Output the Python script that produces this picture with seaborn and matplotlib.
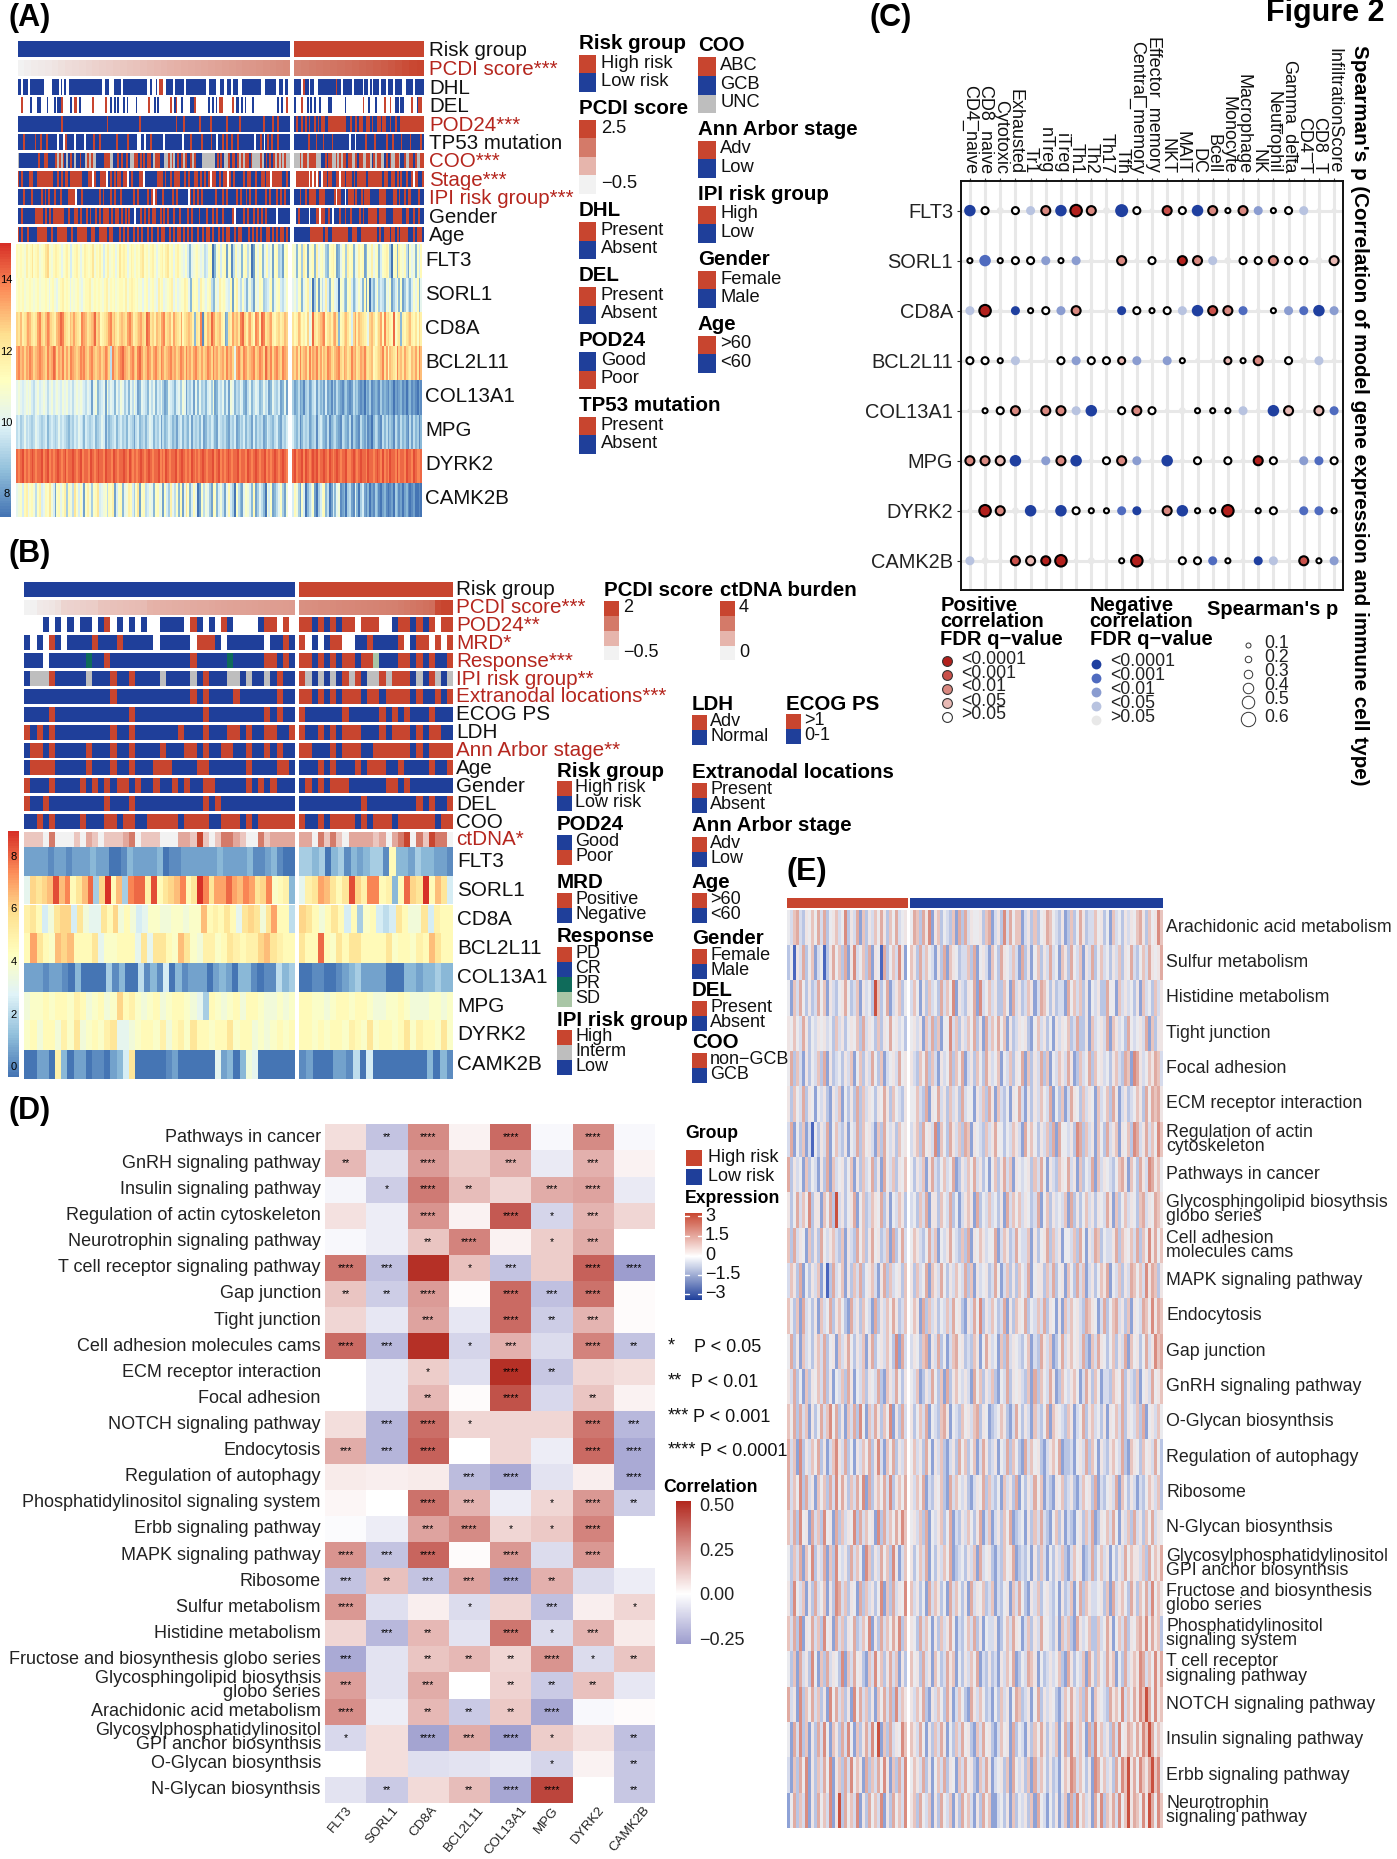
import numpy as np
import pandas as pd
import seaborn as sns
import matplotlib
matplotlib.use("Agg")
import matplotlib.pyplot as plt
from matplotlib.colors import ListedColormap, LinearSegmentedColormap, Normalize
from matplotlib.patches import Rectangle
from matplotlib.cm import ScalarMappable
from matplotlib.transforms import ScaledTranslation

# ---------------- DATA: panel A annotation tracks (left block / right block) ----------------
A_PCDI_L = [0.0,0.05,0.1,0.12,0.15,0.2,0.25,0.3,0.33,0.36,0.4,0.44,0.48,0.5,0.55,0.58,0.62,0.65,0.7,0.74,0.78,0.82,0.86,0.9,0.94,0.97,1.0,1.04,1.08,1.12,1.16,1.2,1.24,1.28,1.3,1.34,1.38,1.42,1.46,1.5]
A_PCDI_R = [1.6,1.65,1.7,1.74,1.78,1.82,1.86,1.9,1.95,2.0,2.05,2.1,2.16,2.22,2.3,2.38,2.46,2.5]
A_DHL_L = "BBWBBBWBBBBBBBBWWWWBBBBWBWBWWBBBBBBBBBBBBBBBBBBWWBBWWWBBBBWBBBBBBBBBBBBBWWBWWBWRRWWBBBBWBBBBBWBBBBBBBBBBBWWBBBBWWBBWWBBWBBBWWBBBBBBBBBBBWWBBBBBBWWBBWBBW"
A_DHL_R = "BBBBWRBBWBBWWBBBBBBBBBBRBBWBBBBBWBBBBBWBBWBWBBBWBBBWBBBWBBBBWWBBBBWBBBBB"
A_DEL_L = "WWRWWWWBWWWBBWWWBWWWBWBBRWWWWBWRRWBWWWWWWRWWWWWWRWWBWBWBWWBWBWWWWBWWWWWWRWWBWBWWWWWWRWBRWWBWWWWBBRWWWWWWWBWBWBWRRWWWWWRWBBWBWBWWWBWWWWWWWWWWWWWBWBWWRW"
A_DEL_R = "BWWWRWWBWBWBWWBWWWWBBWWWWWWWBWWWWWWWWWRWWBWWWBWWWWRWWRWWBBWBBWWWWRWWBRRW"
A_POD_L = "BBBBBBBBBBBBBBBBBBBBBBBBRBBBBBBBBBBBBBBBBBBBBBBBBRBBBBBBBBBBBBBBBBBRBBBBBBBBBBBBBBBBBBBRBBBRBBBBBBBBRBBBBBRBBBBBBBBRBBBBBBRBBBBBBBBBBBBRBBBBRBBRBBBBBB"
A_POD_R = "BRBBRBRBRBBRBRBRRBBRRRRRRRRRRBBRBBRBRRBBRRBRBBRRBRRBBRBBRBBRRRRRRRRRRRRR"
A_TP53_L = "BBBRBBBBBRBBRBBRBBBBBWBBWRBBBBWBBBBWBBBBRBBRBBBBBBBBRBBBBBRBBBBWWBBWBBRBBBBBBWBBBBBBBBBWBBBRBBBBBRBBBBRBBWBBRBRBBRBBRBBBBBBBBWBBRBWBRBRBBRBBBBBB"
A_TP53_R = "BBBBBBBBRBBBRBBBRBBBBRBBBBBBBBBWBBWBBBBBRBBBBRBBBBBBRBBRBBBBRBBBBRBBBBBRB"
A_COO_L = "GBBBBBBBBBBRBBRRBBBBRGRGRBGBRBGBBRBBGRGRGGBBBBRRRGGBBRBRBBRBGGRRBRBRBRRBGRRRBBGGRGRGBRBRGRBBRGRBBBGGGGGGGBRBRBGGRBRRBRGRGRRBRGGGGRGBRBRBRGRGRGRGG"
A_COO_R = "GGGRGRRGRRRRGGGBBRBRRGGRGRGRRBRRGGRBRRGGRRGBRGRRGGBRBRGGRRGBBRGGRRBRGGRR"
A_STAGE_L = "RBRBBBRRBBRRRRRRRRBBRBRBRRBRRRRRRBBBRRWRBBRRRWBRBRBRRBRRWBRBBBRRWBBBBBBRRRBRBBRBRRRBBRBRBBRRBRBRBRWRRBBRBRRWRBRBBBBRBRRBBRBBRRBRRWRRRRRBBRB"
A_STAGE_R = "WRRRRRRRWRWRWRBWRRBRRBBRRWRRBRRRBRBRRRRRBRRRRRRRRBRRBBRRBRBRBBRBBRWRRBBR"
A_IPI_L = "BBBRBBBRBBBBRBRBRBBRBBRBBBRRRRWBBRBBBBBBBBRBRBBBRBRBBRBBBBBBRBRBBBBRBRWRBBBRBBBBRBRBBBBBWRBRBRBRBBBBBBRBBBRBRBBBBRBRBBRBRBBRBBBBRBRBBBRBRBRBB"
A_IPI_R = "BBBRBBRBRRRRBBRRRBBBBBRWRRBBWBRRRBRBBRBRRRBBBBBRRRRBBBBRRBRBBRBRRBBBBRBB"
A_GEN_L = "BBRBBBBBBRRRRBRBRBRRRRRRBBRBBRRBRBBRBRBBRBRBRRRBRBRRBRBRBRBBWBBRBRBRBRRBBRBRBRBBRBBRBBBRBRBBBRBBBRBBRBRBBRBBBBRWBBBBRBRBBRBRBRBRBBBBBWBBBBBB"
A_GEN_R = "WBRBBBBBWBBBRRWRRBBRBWBBBRBBRBBRBBBBRBRBBRRRRRBRRRRBBBBRRRRRBBRRBBRBBRBB"
A_AGE_L = "RBRBBRBBBBRRRRRBBRBBRRRRRBBRBBRRRRRBBRRBBRRRRBRRBBBRBRBRBBRBRBRBBRBRBBRBRRBBRBRBRRBRBRBRBBRBBRBRRBRBBRBRBRRBBRBRRBBBRBRBRBRBBRRBRBRBRRBRB"
A_AGE_R = "BBBBBBBBBRRRRRRRBRRBBRRRRRRRRRBBRRRBBRRRRRRRRRBRBBRRRBRRBRBRRRRBBBRBRRRB"

# ---------------- panel A expression (letter a..t = low..high) ----------------
A_EXP_NAMES = ["FLT3","SORL1","CD8A","BCL2L11","COL13A1","MPG","DYRK2","CAMK2B"]
A_EXP_L = [
"kjkjiljkmjklijkmnjiklkjhjkljgjkljhjlkjkmikjljgjlijkhjmklkhjlkikjlmjkikljhjkljlmjkhkljihjgdhijkihifgjkadikgjkcijbfkhidjkfiacjhkjdhkgicjkefcjk",
"jkjkijjkjijkijjkjhjkihjkljkjhjijkihjkklijkjkjiklikjkijkkjliklkjkijhjkhjkihljkhijklhjhijjlkhdkjkgljihjkfdihljkihgkcjlhfjgdhifcihkjefgikdhjkgfhj",
"nmolmnpomlmpqnmoqpnmloprqnmlonpnmlqpomnoprnoklmnpqnomlnonmpqolmnopnmrqmnlonmpqmnolpnmlpkmnonldmlqbmlonrpmnolkcdmlpnomqrnlopmkqplrqmnoplkmnlmon",
"pqopnpoqpnopqponqoprqnpoqnpnqponoqpqonpqonopnoqpnfqonpqrponpqonqrpnoqpnpqonqpnopqopnoqpnqopnpqonpnoqpnqopnopnqopnhpqonqpnopqnoqpnrpoqnpqonqpo",
"hihghihigfhighihfhighihgihighfhihihgfhgchidfghcifhgdhfihegdhfigcdhgfdhfhdgfhecdhgfdgheihcfegchdhefdgheicdgfhdgcihdfehgdcfhdfhgdehfgcdhfegcdhc",
"fgefhfgfefhgfefgdfgfefhfgfedfegfhgfdgfefgdefhgcfdefgdfgefdgfecfgdefdfhgdfegcfdegfdecfgdfedgcfefdgcdfegfdcgfefdcfegcdfegdfecgdfefcdgfedfgdcfeg",
"rqrsqrqrsrqrrsqrsqrqrsrqrsqrrsrqrsqrrqsrqrsrrqsrrqsrqrrsrqsrqrqrsrqrsrqrrsqrqsrqrrsqrsrqrqsrqrqrsrqrrsqrsqrqrsrqrrsqrrqsrqrsrqrrsqrqrsrqrsrq",
"hijgklhjkifjlghkjmigcjkhjlekifmjgkhcjliejkmghijfkjlcgjkdhilkgejmcjkfgihdjkhicjgelhfjdkchmjdgkhacjfiheckjdgifchkgeajfdchjigdkcehfdaigjcdfhjeci",
]
A_EXP_R = [
"jidjkeljcijkdlhjkiedjkljcdhjkeljkdhiljkcdjilhjkdgjkljeajkdljikfcjhidjgk",
"higjkdhjlgjaejcifhlgdjkhgajiedjkgdfhjhdkcjafdhjegfdihjcegidjcehfdgjhkdh",
"mklonkljnhjrmlnopqkmnlopmdklnomkgnplonmlkhnomjlnpkqmnlkrjlmdlkmnolkmjnl",
"onpmqnopmqnpoqnpmonqpnmopqnmpomnqopmnpoqnmnoklmnoqmpkonmlqnompnmlonpmqo",
"ecdfcdbefcdfgcfdecgcdbecfdcbdecbcfdecbcadcebcdcbecdcbdcacbcdbcacdbcbacb",
"gedfbdfefcdefbfgedcfbdefdcbfedcfbedcbfdcebcadfecbfdfcedbfdcfdecbfcfdebd",
"rsqrrsqsrqrsrsqrrsrqsrqrsrqrrsqqrsrqrsrrqsrrqrsrqsqrqsrrqsqrrqsrrqsrqqr",
"gkiecjgadfhjcaegjkdfacgdhibcdaefcbhdaegcbdacbedbacdbabcaedbcacdbabcaaba",
]

# ---------------- panel B annotation tracks ----------------
B_PCDI_L = [0.0,0.02,0.15,0.18,0.22,0.3,0.5,0.52,0.55,0.58,0.6,0.62,0.75,0.78,0.8,0.83,0.85,0.87,0.88,0.9,1.05,1.08,1.1,1.12,1.14,1.16,1.18,1.2,1.22,1.24,1.26,1.3,1.32,1.34,1.35,1.37,1.38,1.4,1.42,1.44,1.45,1.46,1.47,1.48]
B_PCDI_R = [1.7,1.72,1.74,1.76,1.78,1.8,1.82,1.84,1.86,1.88,1.9,1.92,1.94,1.96,1.98,2.0,2.05,2.1,2.15,2.2,2.25,2.3,2.9,3.0,3.0]
B_POD_L = "WWWBWBWBWBBWBRWBWBWBWWBBBBWRBWBWRBWWWWBRRWRW"
B_POD_R = "RRBRBRBRRWRRRWWBRRBRBRWRR"
B_MRD_L = "BWBWRBWBBBBRBBBRBBBBBWBBBBBWRRRBWBBBBBBWBBRB"
B_MRD_R = "RWBWBRRWWBBRBBBBRWBRRWRWR"
B_RESP_L = "BBBWBBBBBBDBBRBBBBBBBBBBBBBRBBBBBDBBBBBRRBRB"
B_RESP_R = "RRBRBRBRRBRRLBBBRRBRBRBBR"
B_IPI_L = "BGGGRBBBBBGBBBRBBRBBBBGBBBBGBRBBBGGBGBBGBRBB"
B_IPI_R = "RGBGBGBRGRBGGRGRRRBGBRGBG"
B_EXTRA_L = "BBBBBBBBBBBBBBRBBBBBBBBBBBBRBRBBBBRBBBBBBRBB"
B_EXTRA_R = "RRBRBRBRRRBRRBRRRRBRBBRBR"
B_ECOG_L = "BBBBRBBBBBBBBBBBBRBBBBBBBBBBBRBBBBBBBBBRBRBB"
B_ECOG_R = "RBBBBBBRBBBBBRBRBRBBBRBBB"
B_LDH_L = "RBRBRBBBBBBBBBRBBRBBBBBBBRBBBRBBBRRBRBBRRBBR"
B_LDH_R = "RBBRBRBRRRBBBRBRRRBRBRRBB"
B_ANN_L = "BRRBRBBBBBRBBBRBBRBBBBRBBBRRBRBBRRBBRBBRBRBB"
B_ANN_R = "RRBBBRBRRRBBRRRRRRBRBRRRR"
B_AGE_L = "BRRRRBBBBBRBBBRBBRBBBRRRBBBBRRBBBBBBRBBBBRRB"
B_AGE_R = "BBBRBRBBBRBRRRBBRBBBBRBBR"
B_GEN_L = "RBBBRBBBBRBRBRBRRBRBBRBBRBRBBRRBBBBBRBRBRBBB"
B_GEN_R = "BRBRBRRRBBBBBBRRBRBBBBBBB"
B_DEL_L = "RBBRBBBBBBBBBRBBBRBBBBBBBBBBBRBRBBBBBBBBBBBB"
B_DEL_R = "BBBBBBBBBBRBBBBBBBBRBRBBR"
B_COO_L = "BBRBRBBBBRBBBRRBRRBBRRRRRBRRRRBBRRRBRBRRRRRR"
B_COO_R = "RBBRBRRRRBRBRRRBRRRRRRBRR"
B_CTDNA_L = [1,1,1,0,3,0,0,0,1,0,2,1,0,1,1,1,2,3,0,1,1,1,0,0,0,2,2,1,4,1,0,1,3,3,2,1,0,0,3,1,2,2,2,2]
B_CTDNA_R = [2,2,0,3,1,3,1,0,2,2,2,2,1,2,0,2,3,4,0,3,1,4,3,3,0]

B_EXP_NAMES = ["FLT3","SORL1","CD8A","BCL2L11","COL13A1","MPG","DYRK2","CAMK2B"]
B_EXP_L = [
"ccccbccbcccdccaabdccccdabbccccccdccccdbbcdbaa",
"hnmnosoqkmorentkoeqrrlskmnoqkmtqmpprpoqpmnqjkld",
"lmkgimnngmihhmknikighjjiijjijjoklkmkhmnmimpkkf",
"kpmkjonokkkmhjjkkkhmhmmkjomjilljkmlkllnomlkk",
"cccbccbadaaaaebdaafbdbgadbcccacdcaddbabbfde",
"ijjkjkkjlkijkijnkljijkijkkjihekjijkikkjiijij",
"jkikkiljmijkjlmhhijkkjlikljmkkjkkmjkkijijkjk",
"aaccaldaccabbacdgmaaaaabcaaaaaahcdadihaaaaaa",
]
B_EXP_R = [
"eedeadebdcdeebkddceddccb",
"hlmpomkmsnlqqkldkrnmtkomg",
"nmkikmkgkejkgfgmkiimglkk",
"mkkrkjmkmmkkkkmjkkjlkomkk",
"aabbaabcdeccccaaaddcddedd",
"kkjjijkkjkkjiijjkjiiijjij",
"kkjkjkkjlkjmjkkjkmjlkkjmj",
"bcaaaccbfagaaaaaaaadadb",
]

# ---------------- panel C ----------------
C_GENES = ["FLT3","SORL1","CD8A","BCL2L11","COL13A1","MPG","DYRK2","CAMK2B"]
C_CELLS = ["CD4_naive","CD8_naive","Cytotoxic","Exhausted","Tr1","nTreg","iTreg","Th1","Th2","Th17","Tfh","Central_memory","Effector_memory","NKT","MAIT","DC","Bcell","Monocyte","Macrophage","NK","Neutrophil","Gamma_delta","CD4_T","CD8_T","InfiltrationScore"]
# upper-case = negative correlation, lower-case = positive; a/A strongest ... e/E not significant
C_CLASS = ["AeEeDcAacEAeEbeAcecCeeDEE","eBeeeCeCEEcEeEacDEeeceeEd","DaEAeeCcEEAeeeDAbcBEeCBAC","eeeDEEeCeedCECeEEdecEeEDE","EeecEccDAEeceEEeeeDEAdEdB","ccdAECcAEecCEAEeEeEaeECBe","EacEAEAeeeBAEcAeeaEeeEBBe","DEEbdaaEEEeaEEeeBeEADEbeC"]
C_RHO = ["4222334432521324313312311","1412231311312133322232223","3413123311321234333113343","2213112322231311121312231","1123133341232121113143133","3334133412331412121321332","1432414211331341141121331","3213334121142122311331313"]

# ---------------- panel D ----------------
D_COLS = ["FLT3","SORL1","CD8A","BCL2L11","COL13A1","MPG","DYRK2","CAMK2B"]
D_ROWS = ["Pathways in cancer","GnRH signaling pathway","Insulin signaling pathway","Regulation of actin cytoskeleton","Neurotrophin signaling pathway","T cell receptor signaling pathway","Gap junction","Tight junction","Cell adhesion molecules cams","ECM receptor interaction","Focal adhesion","NOTCH signaling pathway","Endocytosis","Regulation of autophagy","Phosphatidylinositol signaling system","Erbb signaling pathway","MAPK signaling pathway","Ribosome","Sulfur metabolism","Histidine metabolism","Fructose and biosynthesis globo series","Glycosphingolipid biosythsis\nglobo series","Arachidonic acid metabolism","Glycosylphosphatidylinositol\nGPI anchor biosynthsis","O-Glycan biosynthsis","N-Glycan biosynthsis"]
D_VALUES = [
[.08,-.17,.28,.03,.36,-.02,.28,-.02],
[.17,-.08,.24,.12,.19,-.06,.19,.03],
[-.03,-.14,.32,.16,.10,.20,.22,-.06],
[.07,-.05,.26,.03,.40,-.12,.18,.10],
[-.02,-.05,.14,.30,.03,.12,.20,0],
[.33,-.18,.50,.15,-.17,.12,.38,-.28],
[.14,-.14,.24,.01,.36,-.18,.34,.01],
[.10,-.07,.22,-.07,.36,-.14,.18,.01],
[.36,-.20,.50,-.12,.19,-.10,.30,-.17],
[0,-.06,.12,-.09,.50,-.16,.10,.08],
[0,-.06,.17,.01,.42,-.11,.14,.03],
[.08,-.21,.35,.10,.10,.10,.33,-.20],
[.20,-.21,.38,0,.10,-.05,.36,-.24],
[.05,.04,.05,-.19,-.24,-.08,.04,-.24],
[.02,0,.34,.18,-.05,.10,.25,-.14],
[-.01,-.05,.22,.28,.10,.13,.30,0],
[.26,-.17,.37,.01,.25,-.10,.25,0],
[-.17,.15,-.17,.22,-.25,.19,-.10,-.05],
[.25,-.09,.04,-.10,.10,-.18,.04,.10],
[.10,-.20,.17,-.08,.33,-.10,.18,.05],
[-.24,-.08,.14,.17,.10,.26,-.10,.14],
[.23,-.08,.20,0,.11,-.15,.15,-.07],
[.27,-.05,.17,-.15,.13,-.25,-.02,.01],
[-.11,.08,-.26,.20,-.27,.12,.07,-.18],
[0,.08,-.09,-.08,-.06,-.12,.03,-.16],
[-.08,-.15,.09,.16,-.25,.45,0,-.16],
]
D_STARS = [
[0,2,4,0,4,0,4,0],[2,0,4,0,3,0,3,0],[0,1,4,2,0,3,4,0],[0,0,4,0,4,1,3,0],[0,0,2,4,0,1,3,0],
[4,3,0,1,3,0,4,4],[2,2,4,0,4,3,4,0],[0,0,3,0,4,2,3,0],[4,3,0,1,3,0,4,2],[0,0,1,0,4,2,0,0],
[0,0,2,0,4,0,2,0],[0,3,4,1,0,0,4,3],[3,3,4,0,0,0,4,4],[0,0,0,3,4,0,0,4],[0,0,4,3,0,1,4,2],
[0,0,3,4,1,1,4,0],[4,3,4,0,4,0,4,0],[3,2,3,3,4,2,0,0],[4,0,0,1,0,3,0,1],[0,3,2,0,4,1,3,0],
[3,0,2,2,2,4,1,2],[3,0,3,0,2,2,2,0],[4,0,2,2,2,4,0,0],[1,0,4,3,4,1,0,2],[0,0,0,0,0,1,0,2],[0,2,0,2,4,4,0,2]]

# ---------------- panel E (digit 0..9 = low..high) ----------------
E_NAMES = ["Arachidonic acid metabolism","Sulfur metabolism","Histidine metabolism","Tight junction","Focal adhesion","ECM receptor interaction","Regulation of actin\ncytoskeleton","Pathways in cancer","Glycosphingolipid biosythsis\nglobo series","Cell adhesion\nmolecules cams","MAPK signaling pathway","Endocytosis","Gap junction","GnRH signaling pathway","O-Glycan biosynthsis","Regulation of autophagy","Ribosome","N-Glycan biosynthsis","Glycosylphosphatidylinositol\nGPI anchor biosynthsis","Fructose and biosynthesis\nglobo series","Phosphatidylinositol\nsignaling system","T cell receptor\nsignaling pathway","NOTCH signaling pathway","Insulin signaling pathway","Erbb signaling pathway","Neurotrophin\nsignaling pathway"]
E_L = [
"4367325464737245634825371625364752647345",
"2405372461340257462715834627154072463851",
"4163742523746153245742361534296247135624",
"5464375243545342635245462735426254745342",
"4726315243627152342536146253742613453745",
"5264372541435215361425272635425475264325",
"3714261304253714632514372645316274352645",
"7253416243152716345246152634725174362546",
"5247364825516472935245714623654725143652",
"6273541625274356326153274625745236172473",
"3652714253614027346152637245631572634526",
"6426173425163472564217352643172536475236",
"4725163425637245163574253615724536428173",
"5372416254637251436275143625437216537425",
"6472736152473684725163728416375264815273",
"7361825364725136853724153647258316472536",
"7364827351646273847526374817256473825647",
"6372845173628451726354827364518273647586",
"4263716482537162843527364186253746285136",
"5284361527346152873625417263524816273548",
"6372815473628451736254723648152736475826",
"4261735284162735428163745216384625736152",
"7351826473625184736251847362516473728365",
"4173826152738416527384162573849162735486",
"3162748152637481562738465172637485162738",
"1472638152746381592746381527463815274638",
]
E_R = [
"476275815624326172735445267135283746613526245764325126247523364524163425354675264586",
"652736431527165423362714531642754363172514625373416527436153724634253625473246375457",
"364152634273648153254718346352264173523651376425233174636251435227441635342516342635",
"453516372614483625364725173647461523545214635241535462372251634537165342743453716255",
"532647263153472647135264275346143625471625372614365375126347264534256327618753465763",
"446327154735263527344153627516324154731525364371426137542635416346275135234652747675",
"356274538164275362761543263574424365317464253627174435287263516427356154628735736486",
"425361573246347125364735241462573615434526374153265473516243716354324675164275387564",
"342637155264372413565172436342517364635423714625343617252463525437516246354267354765",
"465324736143574326271546534471365237433615245726351443627415376243357265463726485746",
"526347165374253643726153452374136252643714552637245164273613524657143625376463857625",
"465172635243637452153748253642371526547243637254151636453276541372467352615437648576",
"354267153724136745232651475341627354324613275361247356453721637542462537164524735867",
"436125374261725643531746253621437254532617264375126435641375264133265472532614537456",
"524637143267514326453672541234652137425316324716543265134725634251546372543627145364",
"463527415362135274624613752351437264217364521356471223145372641532564372165426453742",
"536471325462173643521354726324163527142537461321546235213645271324537164253132465362",
"453627143562471325364257136135264712341526373214625132145263712546374153627352647354",
"524637142536471234253617345213264571232415263142536213645123724635142537465536274657",
"635241736524173642517354623613245163742153624532415236147265334526173564275264738465",
"542736415263574132463725143351246375413625374432516362175346226347514637254675847562",
"645273516423756142536471325231536471243765142353462175243617526437561427356587364857",
"536472153642751364217536423142635147623514725354213647536274165432756483647586974856",
"653741526375142637452163745213645172431526475253614728536417284635273845764758697465",
"465372514637254163745216375134526174352617364252314658736425187463527486957486579684",
"562743615274361527463152746113425162435261743142513617284635174826573846957648597486",
]

LEVELS = "abcdefghijklmnopqrst"
RED, BLUE, GRAY = "#C8452F", "#1F3F9A", "#BEBEBE"
TITLE_RED = "#B5261E"
CODE = {"R": RED, "B": BLUE, "G": GRAY, "W": "#FFFFFF", "D": "#0F6B5A", "L": "#A9C6A6"}
CODE_KEYS = list(CODE)

W, H = 1397, 1859
sns.set_theme(style="white")
plt.rcParams["font.family"] = ["Liberation Sans", "DejaVu Sans"]
plt.rcParams["axes.unicode_minus"] = True
fig = plt.figure(figsize=(W / 100, H / 100), dpi=100, facecolor="white")

def axpx(x0, y0, x1, y1):
    return fig.add_axes([x0 / W, 1 - y1 / H, (x1 - x0) / W, (y1 - y0) / H])

ramp = LinearSegmentedColormap.from_list("ry", ["#4575B4", "#91BFDB", "#E0F3F8", "#FFFFBF", "#FEE090", "#FC8D59", "#D73027"], 100)
code_cmap = ListedColormap([CODE[k] for k in CODE_KEYS])
score_cmap = LinearSegmentedColormap.from_list("s", ["#F2F2F2", "#E6B5AC", "#D4806F", RED])
level_cmap = ListedColormap(["#F2F2F2", "#EBC6BF", "#E2A79C", "#D47A69", RED])
e_cmap = ListedColormap(["#4A66BE", "#8EA2D6", "#B9C5E4", "#D6DBEC", "#EAEAEE", "#EEE4E4", "#E8C4BE", "#E0ABA2", "#D98C80", "#C9503F"])
corr_cmap = LinearSegmentedColormap.from_list("c", [(0, "#9D9DCE"), (0.35, "#FFFFFF"), (1, "#B2281E")])
expr_cmap = LinearSegmentedColormap.from_list("x", ["#1F3F9A", "#FFFFFF", RED])

def row(box, values, cmap, vmin, vmax):
    ax = axpx(*box)
    sns.heatmap(np.asarray(values, float).reshape(1, -1), cmap=cmap, vmin=vmin, vmax=vmax, cbar=False, ax=ax, xticklabels=False, yticklabels=False, rasterized=True)
    return ax

def code_row(box, s):
    row(box, [CODE_KEYS.index(c) for c in s], code_cmap, -0.5, len(CODE_KEYS) - 0.5)

def expr_row(box, s):
    row(box, [LEVELS.index(c) for c in s], ramp, 0, 19)

def two_blocks(xs, y0, y1, left, right, draw):
    draw((xs[0], y0, xs[1], y1), left)
    draw((xs[2], y0, xs[3], y1), right)

# ---------- overlay axes in pixel coordinates for all text and keys ----------
ov = fig.add_axes([0, 0, 1, 1], zorder=50)
ov.set_xlim(0, W); ov.set_ylim(H, 0); ov.axis("off"); ov.patch.set_alpha(0)

def T(x, y, s, size=13, weight="normal", color="#111111", ha="left", va="center", **kw):
    if s:
        ov.text(x, y, s, fontsize=size, fontweight=weight, color=color, ha=ha, va=va, **kw)

def R(x0, y0, x1, y1, c):
    ov.add_patch(Rectangle((x0, y0), x1 - x0, y1 - y0, facecolor=c, edgecolor="none"))

# ---------- panel A ----------
T(8, 18, "(A)", size=22, weight="bold", color="black")
A_X = (17.5, 290, 294.3, 423.7)
A_TOP = [41.2, 60.2, 78.8, 97, 115.6, 133.9, 152.5, 171, 189.3, 207.9, 226.5]
A_LABELS = [("Risk group", 0), ("PCDI score***", 1), ("DHL", 0), ("DEL", 0), ("POD24***", 1), ("TP53 mutation", 0), ("COO***", 1), ("Stage***", 1), ("IPI risk group***", 1), ("Gender", 0), ("Age", 0)]
A_TRACKS = [None, None, (A_DHL_L, A_DHL_R), (A_DEL_L, A_DEL_R), (A_POD_L, A_POD_R), (A_TP53_L, A_TP53_R), (A_COO_L, A_COO_R), (A_STAGE_L, A_STAGE_R), (A_IPI_L, A_IPI_R), (A_GEN_L, A_GEN_R), (A_AGE_L, A_AGE_R)]
A_H = 15.9
for i, top in enumerate(A_TOP):
    if i == 0:
        R(A_X[0], top, A_X[1], top + A_H, BLUE); R(A_X[2], top, A_X[3], top + A_H, RED)
    elif i == 1:
        row((A_X[0], top, A_X[1], top + A_H), A_PCDI_L, score_cmap, 0, 2.5)
        row((A_X[2], top, A_X[3], top + A_H), A_PCDI_R, score_cmap, 0, 2.5)
    else:
        two_blocks(A_X, top, top + A_H, A_TRACKS[i][0], A_TRACKS[i][1], code_row)
    name, red = A_LABELS[i]
    T(429, top + A_H / 2 + 1.5, name, size=14.8, color=TITLE_RED if red else "#111111")
A_HX = (16, 287.7, 292.3, 422.3)
for i, n in enumerate(A_EXP_NAMES):
    y0 = 244 + i * 34.12
    two_blocks(A_HX, y0, y0 + 34.12, A_EXP_L[i], A_EXP_R[i], expr_row)
    T(425, y0 + 16, n, size=14.8)

def vbar(box, cmap, y_ticks, x_text, size=8):
    ax = axpx(*box)
    fig.colorbar(ScalarMappable(norm=Normalize(0, 1), cmap=cmap), cax=ax)
    ax.set_yticks([]); ax.collections[0].set_rasterized(True)
    for s in ax.spines.values():
        s.set_visible(False)
    for y, s in y_ticks:
        T(x_text, y, s, size=size, ha="center", color="black")
    return ax

vbar((0, 243, 11, 517), ramp, [(279.6, "14"), (351.6, "12"), (422.6, "10"), (494, "8")], 6.5, size=8)

def legend_a(xsw, xsw2, xl, title, ty, items):
    sx, sy = 1.823, 2.958
    T(xsw / sx, ty / sy, title, size=14.8, weight="bold", color="black")
    for y0, y1, c, lab in items:
        R(xsw / sx, y0 / sy, xsw2 / sx, y1 / sy, c)
        T(xl / sx, (y0 + y1) / 2 / sy - 1, lab, size=13.2)

for title, ty, items in [
    ("Risk group", 130, [(163, 217, RED, "High risk"), (217, 272, BLUE, "Low risk")]),
    ("DHL", 622, [(657, 712, RED, "Present"), (712, 766, BLUE, "Absent")]),
    ("DEL", 814, [(849, 904, RED, "Present"), (904, 958, BLUE, "Absent")]),
    ("POD24", 1006, [(1041, 1096, BLUE, "Good"), (1096, 1151, RED, "Poor")]),
    ("TP53 mutation", 1198, [(1233, 1288, RED, "Present"), (1288, 1342, BLUE, "Absent")]),
    ("PCDI score", 320, [(355, 409, RED, "2.5"), (409, 464, "#D47A69", ""), (464, 519, "#E6B5AC", ""), (519, 573, "#F2F2F2", "\u22120.5")]),
]:
    legend_a(1055, 1087, 1095, title, ty, items)
for title, ty, items in [
    ("COO", 135, [(170, 225, RED, "ABC"), (225, 280, BLUE, "GCB"), (280, 334, GRAY, "UNC")]),
    ("Ann Arbor stage", 383, [(416, 471, RED, "Adv"), (471, 526, BLUE, "Low")]),
    ("IPI risk group", 575, [(608, 663, RED, "High"), (663, 718, BLUE, "Low")]),
    ("Gender", 767, [(801, 856, RED, "Female"), (856, 910, BLUE, "Male")]),
    ("Age", 960, [(993, 1048, RED, ">60"), (1048, 1103, BLUE, "<60")]),
]:
    legend_a(1272, 1305, 1313, title, ty, items)

# ---------- panel B ----------
T(8.6, 554, "(B)", size=22, weight="bold", color="black")
B_X = (24.3, 295, 299.3, 453.3)
B_LABELS = [("Risk group", 0), ("PCDI score***", 1), ("POD24**", 1), ("MRD*", 1), ("Response***", 1), ("IPI risk group**", 1), ("Extranodal locations***", 1), ("ECOG PS", 0), ("LDH", 0), ("Ann Arbor stage**", 1), ("Age", 0), ("Gender", 0), ("DEL", 0), ("COO", 0), ("ctDNA*", 1)]
B_TRACKS = [None, None, (B_POD_L, B_POD_R), (B_MRD_L, B_MRD_R), (B_RESP_L, B_RESP_R), (B_IPI_L, B_IPI_R), (B_EXTRA_L, B_EXTRA_R), (B_ECOG_L, B_ECOG_R), (B_LDH_L, B_LDH_R), (B_ANN_L, B_ANN_R), (B_AGE_L, B_AGE_R), (B_GEN_L, B_GEN_R), (B_DEL_L, B_DEL_R), (B_COO_L, B_COO_R), None]
for i in range(15):
    top = 581.7 + i * 17.87
    if i == 0:
        R(B_X[0], top, B_X[1], top + 15, BLUE); R(B_X[2], top, B_X[3], top + 15, RED)
    elif i == 1:
        row((B_X[0], top, B_X[1], top + 15), B_PCDI_L, score_cmap, 0, 3)
        row((B_X[2], top, B_X[3], top + 15), B_PCDI_R, score_cmap, 0, 3)
    elif i == 14:
        row((B_X[0], top, B_X[1], top + 15), B_CTDNA_L, level_cmap, -0.5, 4.5)
        row((B_X[2], top, B_X[3], top + 15), B_CTDNA_R, level_cmap, -0.5, 4.5)
    else:
        two_blocks(B_X, top, top + 15, B_TRACKS[i][0], B_TRACKS[i][1], code_row)
    name, red = B_LABELS[i]
    T(456.4, top + 8, name, size=14.9, color=TITLE_RED if red else "#111111")
for i, n in enumerate(B_EXP_NAMES):
    y0 = 846.5 + i * 29
    two_blocks(B_X, y0, y0 + 29, B_EXP_L[i], B_EXP_R[i], expr_row)
    T(457.5, y0 + 14.5, n, size=14.9)
vbar((8, 831, 19, 1077), ramp, [(856.8, "8"), (909, "6"), (962, "4"), (1014.6, "2"), (1067.5, "0")], 13.5, size=8)

def legend_b(xsw, xsw2, xl, title, ty, items, tx=None):
    sx, sy = 1.742, 2.8
    T((tx or xsw) / sx, 530 + ty / sy, title, size=14.8, weight="bold", color="black")
    for y0, y1, c, lab in items:
        R(xsw / sx, 530 + y0 / sy, xsw2 / sx, 530 + y1 / sy, c)
        T(xl / sx, 530 + (y0 + y1) / 2 / sy - 1, lab, size=13)

for title, ty, items in [
    ("Risk group", 676, [(704, 745, RED, "High risk"), (745, 787, BLUE, "Low risk")]),
    ("POD24", 825, [(853, 895, BLUE, "Good"), (895, 937, RED, "Poor")]),
    ("MRD", 986, [(1015, 1057, RED, "Positive"), (1057, 1099, BLUE, "Negative")]),
    ("Response", 1139, [(1167, 1209, RED, "PD"), (1209, 1251, BLUE, "CR"), (1251, 1293, CODE["D"], "PR"), (1293, 1335, CODE["L"], "SD")]),
    ("IPI risk group", 1372, [(1400, 1442, RED, "High"), (1442, 1484, GRAY, "Interm"), (1484, 1526, BLUE, "Low")]),
]:
    legend_b(970, 996, 1002, title, ty, items)
for title, ty, items in [
    ("LDH", 488, [(518, 560, RED, "Adv"), (560, 602, BLUE, "Normal")]),
    ("Extranodal locations", 680, [(709, 751, RED, "Present"), (751, 793, BLUE, "Absent")]),
    ("Ann Arbor stage", 827, [(860, 902, RED, "Adv"), (902, 944, BLUE, "Low")]),
    ("Age", 988, [(1017, 1059, RED, ">60"), (1059, 1101, BLUE, "<60")]),
    ("Gender", 1144, [(1173, 1215, RED, "Female"), (1215, 1257, BLUE, "Male")]),
    ("DEL", 1290, [(1320, 1362, RED, "Present"), (1362, 1404, BLUE, "Absent")]),
    ("COO", 1435, [(1464, 1506, RED, "non\u2212GCB"), (1506, 1548, BLUE, "GCB")]),
]:
    legend_b(1205, 1231, 1237, title, ty, items)
legend_b(1370, 1395, 1401, "ECOG PS", 488, [(514, 556, RED, ">1"), (556, 598, BLUE, "0-1")])
legend_b(1053, 1079, 1085, "PCDI score", 170, [(198, 240, RED, "2"), (240, 282, "#D47A69", ""), (282, 324, "#E6B5AC", ""), (324, 365, "#F2F2F2", "\u22120.5")])
legend_b(1254, 1281, 1287, "ctDNA burden", 170, [(198, 240, RED, "4"), (240, 282, "#D47A69", ""), (282, 324, "#E6B5AC", ""), (324, 365, "#F2F2F2", "0")])

# ---------- panel C ----------
T(869.6, 18, "(C)", size=22, weight="bold", color="black")
T(1385, 13, "Figure 2", size=22, weight="bold", color="black", ha="right")
axc = axpx(961.4, 180.6, 1342.9, 590.3)
POS_C = {"a": "#B2201C", "b": "#C9504A", "c": "#D98880", "d": "#E8B9B4", "e": "#FFFFFF"}
NEG_C = {"A": "#1F3F9F", "B": "#4F6BBF", "C": "#8A9CD0", "D": "#B8C3E0", "E": "#E8E8E8"}
DIAM = {1: 5, 2: 7, 3: 9, 4: 11.5, 5: 13, 6: 14.4}
SIZES = {k: (v * 0.72) ** 2 for k, v in DIAM.items()}
rows_c = []
for gi, g in enumerate(C_GENES):
    for ci, c in enumerate(C_CELLS):
        rows_c.append({"gene": gi, "cell": ci, "cls": C_CLASS[gi][ci], "rho": int(C_RHO[gi][ci])})
df_c = pd.DataFrame(rows_c)
axc.set_xlim(-0.56, 24.58); axc.set_ylim(7.59, -0.6)
for i in range(25):
    axc.axvline(i, color="#E8E8E8", lw=2.2, zorder=0)
for i in range(8):
    axc.axhline(i, color="#E8E8E8", lw=2.2, zorder=0)
pos = df_c[df_c.cls.str.islower()]
neg = df_c[df_c.cls.str.isupper()]
sns.scatterplot(data=neg, x="cell", y="gene", hue="cls", palette=NEG_C, size="rho", sizes=SIZES, linewidth=0, legend=False, ax=axc, zorder=3)
sns.scatterplot(data=pos, x="cell", y="gene", hue="cls", palette=POS_C, size="rho", sizes=SIZES, edgecolor="black", linewidth=1.5, legend=False, ax=axc, zorder=4)
axc.set_xlabel(""); axc.set_ylabel("")
axc.set_yticks(range(8)); axc.set_yticklabels(C_GENES, fontsize=14.4, color="#222222")
axc.set_xticks(range(25)); axc.set_xticklabels(C_CELLS, rotation=-90, fontsize=13, color="#111111", ha="center", va="bottom")
axc.tick_params(axis="x", top=True, bottom=False, labeltop=True, labelbottom=False, length=2, width=0.8, pad=3, color="#333333")
axc.tick_params(axis="y", left=True, length=3, width=0.8, pad=3, color="#333333")
for s in axc.spines.values():
    s.set_visible(True); s.set_color("#111111"); s.set_linewidth(1.4)
T(1360, 415, "Spearman's p (Correlation of model gene expression and immune cell type)", size=14.9, weight="bold", color="black", ha="center", rotation=-90)
for x, lines in [(940.5, ["Positive", "correlation", "FDR q\u2212value"]), (1089.5, ["Negative", "correlation", "FDR q\u2212value"])]:
    for y, s in zip([605.6, 621.4, 639.8], lines):
        T(x, y, s, size=14.5, weight="bold", color="black")
T(1207, 609.7, "Spearman's p", size=14.5, weight="bold", color="black")
FDR = ["<0.0001", "<0.001", "<0.01", "<0.05", ">0.05"]
for y, k, lab in zip([661.2, 675, 688.8, 703, 716.8], "abcde", FDR):
    ov.scatter([947.3], [y], s=50, c=POS_C[k], edgecolors="#333333", linewidths=0.8)
    T(961, y - 2, lab, size=12.7, color="#222222")
for y, k, lab in zip([663.8, 677.6, 691.8, 705.6, 719.9], "ABCDE", FDR):
    ov.scatter([1095.6], [y], s=50, c=NEG_C[k], linewidths=0)
    T(1110, y - 2, lab, size=12.7, color="#222222")
for y, d, lab in zip([645.4, 659.2, 673.5, 687.8, 702, 719.4], [5, 6.5, 8.5, 10.5, 12.5, 14.4], ["0.1", "0.2", "0.3", "0.4", "0.5", "0.6"]):
    ov.scatter([1248], [y], s=(d * 0.72) ** 2, c="white", edgecolors="#333333", linewidths=0.7)
    T(1264, y - 2, lab, size=12.7, color="#222222")

# ---------- panel D ----------
T(9, 1110.6, "(D)", size=22, weight="bold", color="black")
axd = axpx(325, 1124.3, 655, 1803)
caxd = axpx(676, 1501, 691, 1644)
STAR = {0: "", 1: "*", 2: "**", 3: "***", 4: "****"}
D_TEXT = np.array([[STAR[v] for v in r] for r in D_STARS], dtype=object)
sns.heatmap(pd.DataFrame(D_VALUES, index=D_ROWS, columns=D_COLS), cmap=corr_cmap, vmin=-0.28, vmax=0.52, annot=D_TEXT, fmt="", annot_kws={"fontsize": 7.5, "color": "black"}, ax=axd, cbar_ax=caxd, rasterized=True)
axd.tick_params(axis="y", length=0, pad=3)
axd.tick_params(axis="x", length=0, pad=1)
axd.set_yticklabels(D_ROWS, rotation=0, fontsize=13, color="#222222", linespacing=0.78, ha="right")
axd.set_xticklabels(D_COLS, rotation=50, fontsize=9.6, color="#222222", ha="center", va="top")
for lab in axd.get_xticklabels():
    lab.set_transform(lab.get_transform() + ScaledTranslation(-0.05, 0, fig.dpi_scale_trans))
axd.set_xlabel(""); axd.set_ylabel("")
caxd.set_yticks([-0.25, 0, 0.25, 0.5]); caxd.set_yticklabels(["\u22120.25", "0.00", "0.25", "0.50"], fontsize=13, color="#222222")
caxd.tick_params(length=0, pad=6)
T(685, 1133, "Group", size=12.7, weight="bold", color="black")
R(686, 1149.8, 702, 1166, RED); R(686, 1168.5, 702, 1184.7, BLUE)
T(708, 1157.7, "High risk", size=13); T(708, 1176.8, "Low risk", size=13)
T(685, 1198.9, "Expression", size=12.7, weight="bold", color="black")
caxe = axpx(685, 1212.6, 702, 1300)
fig.colorbar(ScalarMappable(norm=Normalize(-3.46, 3.3), cmap=expr_cmap), cax=caxe)
caxe.set_yticks([]); caxe.collections[0].set_rasterized(True)
for s in caxe.spines.values():
    s.set_visible(False)
for v in [3, 1.5, 0, -1.5, -3]:
    caxe.plot([0, 0.22], [v, v], color="white", lw=1)
    caxe.plot([0.78, 1], [v, v], color="white", lw=1)
for y, s in zip([1216.5, 1235.7, 1255.3, 1274.4, 1294], ["3", "1.5", "0", "\u22121.5", "\u22123"]):
    T(705, y, s, size=13)
for y, st, xp, s in [(1347.5, "*", 694, "P < 0.05"), (1382.8, "**", 691, "P < 0.01"), (1417.6, "***", 693, "P < 0.001"), (1452, "****", 700, "P < 0.0001")]:
    T(667.5, y - 2, st, size=13); T(xp, y, s, size=13)
T(663, 1487.3, "Correlation", size=12.7, weight="bold", color="black")

# ---------- panel E ----------
T(787, 871.5, "(E)", size=22, weight="bold", color="black")
R(787, 898, 907.5, 907.8, RED); R(909.9, 898, 1163, 907.8, BLUE)
E_H = (1828 - 909.7) / 26
def digit_row(box, s):
    row(box, [int(c) for c in s], e_cmap, -0.5, 9.5)
for i, n in enumerate(E_NAMES):
    y0 = 909.7 + i * E_H
    two_blocks((787, 906.5, 910, 1163), y0, y0 + E_H, E_L[i], E_R[i], digit_row)
    T(1166.5, y0 + E_H / 2, n, size=12.8, color="#222222", linespacing=0.78)

fig.savefig("out.png", dpi=100, facecolor="white")
